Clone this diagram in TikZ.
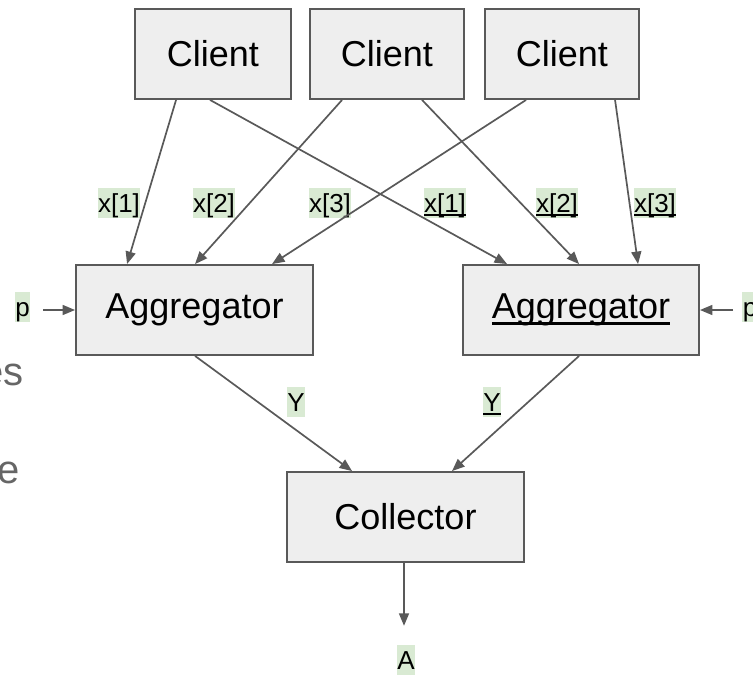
\documentclass[tikz,border=0pt]{standalone}
\usepackage{fontspec}
\setmainfont{Liberation Sans}
\usetikzlibrary{arrows.meta}
\definecolor{boxfill}{HTML}{EEEEEE}
\definecolor{linegray}{HTML}{595959}
\definecolor{labgreen}{HTML}{D9EAD3}
\definecolor{slidegray}{HTML}{666666}
\newcommand\gul[1]{\setbox0=\hbox{#1}\rlap{\rule[-0.17em]{\wd0}{0.09em}}\box0}
\tikzset{
  box/.style={draw=linegray, fill=boxfill, line width=1.9pt, minimum height=90pt,
    inner sep=0pt, font=\fontsize{36}{43}\selectfont},
  lab/.style={fill=labgreen, inner xsep=0.5pt, inner ysep=0pt, text height=24pt,
    text depth=6pt, font=\fontsize{26}{31}\selectfont},
  arr/.style={draw=linegray, line width=1.7pt, -{Triangle[length=12.5pt,width=10pt]}},
  slide/.style={text=slidegray, font=\fontsize{40}{48}\selectfont, inner sep=0pt}
}
\begin{document}
\begin{tikzpicture}[x=1pt,y=-1pt]
\useasboundingbox (0,0) rectangle (753,675);
% boxes
\node[box, minimum width=156pt] (c1) at (213,54) {Client};
\node[box, minimum width=154pt] (c2) at (387,54) {Client};
\node[box, minimum width=154pt] (c3) at (562,54) {Client};
\node[box, minimum width=237pt] (aggL) at (194.5,310) {Aggregator};
\node[box, minimum width=236pt] (aggR) at (581,310) {\gul{Aggregator}};
\node[box, minimum width=237pt] (coll) at (405.5,517) {Collector};
% labels
\node[lab] (x1L) at (119,203) {x[1]};
\node[lab] (x2L) at (214,203) {x[2]};
\node[lab] (x3L) at (330,203) {x[3]};
\node[lab] (x1R) at (445,203) {\gul{x[1]}};
\node[lab] (x2R) at (557,203) {\gul{x[2]}};
\node[lab] (x3R) at (655,203) {\gul{x[3]}};
\node[lab] (yL) at (296,402) {Y};
\node[lab] (yR) at (492,402) {\gul{Y}};
\node[lab] (aOut) at (406,660) {A};
\node[lab] (pL) at (22.5,307) {p};
\node[lab] (pR) at (750,307) {p};
% slide fragments
\node[slide, anchor=base east] (es) at (24,385) {es};
\node[slide, anchor=base east] (e) at (20,483) {e};
% connectors clients -> aggregators
\draw[arr] ([xshift=42pt]c1.south west) -- ([xshift=52pt]aggL.north west);
\draw[arr] ([xshift=76pt]c1.south west) -- ([xshift=45pt]aggR.north west);
\draw[arr] ([xshift=33pt]c2.south west) -- ([xshift=120pt]aggL.north west);
\draw[arr] ([xshift=113pt]c2.south west) -- ([xshift=117pt]aggR.north west);
\draw[arr] ([xshift=42pt]c3.south west) -- ([xshift=197pt]aggL.north west);
\draw[arr] ([xshift=131pt]c3.south west) -- ([xshift=176pt]aggR.north west);
% aggregators -> collector
\draw[arr] ([xshift=120pt]aggL.south west) -- ([xshift=66pt]coll.north west);
\draw[arr] ([xshift=117pt]aggR.south west) -- ([xshift=166pt]coll.north west);
% collector -> A
\draw[arr, shorten >=19pt] ([xshift=-1.5pt]coll.south) -- ([xshift=-1.5pt]coll.south |- aOut.north);
% p inputs
\draw[arr, shorten <=13pt] (pL.east |- aggL.west) -- (aggL.west);
\draw[arr, shorten <=9pt] (pR.west |- aggR.east) -- (aggR.east);
\end{tikzpicture}
\end{document}
